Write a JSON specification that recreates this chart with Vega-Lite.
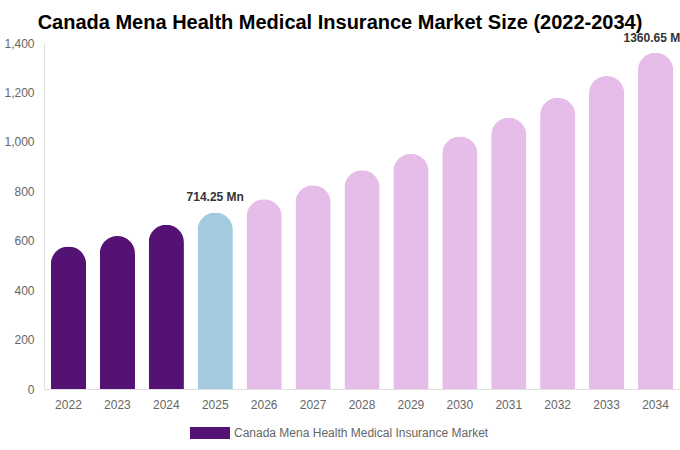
{
  "$schema": "https://vega.github.io/schema/vega-lite/v6.json",
  "width": 636,
  "height": 346,
  "autosize": {"type": "none"},
  "padding": {"left": 44, "top": 43, "right": 0, "bottom": 61},
  "background": "white",
  "config": {
    "font": "Liberation Sans",
    "view": {"stroke": null}
  },
  "title": {
    "text": "Canada Mena Health Medical Insurance Market Size (2022-2034)",
    "fontSize": 20,
    "fontWeight": "bold",
    "color": "#000000",
    "anchor": "middle",
    "dx": -22,
    "offset": -1
  },
  "data": {
    "values": [
      {"year": 2022, "value": 576.2},
      {"year": 2023, "value": 619.0},
      {"year": 2024, "value": 664.9},
      {"year": 2025, "value": 714.25},
      {"year": 2026, "value": 767.3},
      {"year": 2027, "value": 824.2},
      {"year": 2028, "value": 885.4},
      {"year": 2029, "value": 951.1},
      {"year": 2030, "value": 1021.7},
      {"year": 2031, "value": 1097.5},
      {"year": 2032, "value": 1178.9},
      {"year": 2033, "value": 1266.5},
      {"year": 2034, "value": 1360.65}
    ]
  },
  "transform": [
    {"calculate": "'Canada Mena Health Medical Insurance Market'", "as": "series"}
  ],
  "encoding": {
    "x": {
      "field": "year",
      "type": "ordinal",
      "title": null,
      "scale": {"paddingInner": 0.28, "paddingOuter": 0.14},
      "axis": {
        "labelAngle": 0,
        "labelColor": "#666666",
        "labelFontSize": 12,
        "labelPadding": 10,
        "ticks": false,
        "domainColor": "#e0e0e0"
      }
    },
    "y": {
      "field": "value",
      "type": "quantitative",
      "title": null,
      "scale": {"domain": [0, 1400]},
      "axis": {
        "values": [0, 200, 400, 600, 800, 1000, 1200, 1400],
        "format": ",.0f",
        "grid": false,
        "ticks": false,
        "labelColor": "#666666",
        "labelFontSize": 12,
        "labelPadding": 10,
        "domainColor": "#e0e0e0"
      }
    }
  },
  "layer": [
    {
      "mark": {"type": "bar", "cornerRadiusTopLeft": 17.5, "cornerRadiusTopRight": 17.5},
      "encoding": {
        "color": {
          "field": "series",
          "type": "nominal",
          "scale": {"range": ["#541275"]},
          "condition": [
            {"test": "datum.year == 2025", "value": "#a3cadf"},
            {"test": "datum.year > 2025", "value": "#e6bde9"}
          ],
          "legend": {
            "title": null,
            "orient": "none",
            "legendX": 146,
            "legendY": 370,
            "direction": "horizontal",
            "symbolType": "M-1,-0.3H1V0.3H-1Z",
            "symbolSize": 1600,
            "symbolStrokeWidth": 0,
            "labelColor": "#666666",
            "labelFontSize": 12,
            "labelLimit": 400
          }
        }
      }
    },
    {
      "transform": [
        {"filter": "datum.year == 2025 || datum.year == 2034"},
        {"calculate": "format(datum.value, '.2f') + ' Mn'", "as": "label"}
      ],
      "mark": {
        "type": "text",
        "dy": -8,
        "baseline": "bottom",
        "fontWeight": "bold",
        "fontSize": 12,
        "color": "#333333"
      },
      "encoding": {"text": {"field": "label"}}
    }
  ]
}
